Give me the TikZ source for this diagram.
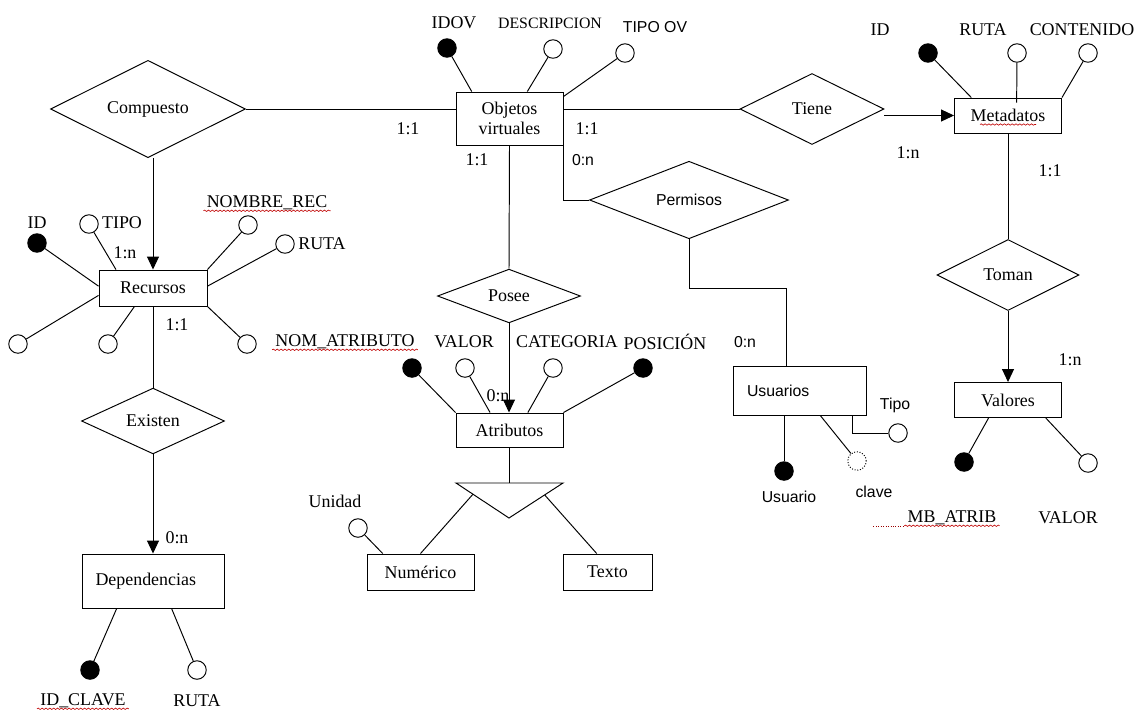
\documentclass[tikz,border=0pt]{standalone}
\usepackage{fontspec}
\setmainfont{Liberation Serif}
\newfontfamily\arialfont{Liberation Sans}
\usetikzlibrary{shapes.geometric}
\usetikzlibrary{arrows.meta}
\usetikzlibrary{calc,decorations.pathmorphing}

\begin{document}
\begin{tikzpicture}[x=0.02cm, y=-0.02cm, line width=0.55pt,
         every node/.style = {font=\fontsize{10.2}{12}\selectfont},
         sf/.style = {font=\arialfont\fontsize{9}{11}\selectfont},
         entidad/.style = {draw, rectangle, inner sep=0pt,
         minimum width=2.14cm, minimum height=0.70cm},
         relacion/.style = {draw, diamond, inner sep=0pt},
         atrib/.style = {draw, circle, inner sep=0pt, minimum size=0.37cm},
         principal/.style = {atrib, fill=black},
         card arrow/.style = {-{Triangle[length=0.26cm,width=0.24cm]}},
         spell/.style = {red!75!black, line width=0.35pt, decorate,
         decoration={snake, amplitude=0.4pt, segment length=2.2pt}}]

      \useasboundingbox (0,0) rectangle (1139,711);

      % entidades
      \node[entidad, minimum height=1.06cm, align=center,
         font=\fontsize{10.2}{11}\selectfont] (ov) at (509.5,118.5) {Objetos\\virtuales};
      \node[entidad]                                   (meta) at (1008,115.5) {Metadatos};
      \node[entidad, minimum width=2.16cm, minimum height=0.72cm] (rec) at (153,288) {Recursos};
      \node[entidad, minimum width=2.84cm, minimum height=1.08cm,
         text width=2.3cm, align=left]                 (dep) at (153,581) {Dependencias};
      \node[entidad, sf, minimum width=2.66cm, minimum height=0.98cm,
         text width=2.1cm, align=left]                 (usr) at (799.5,390.5) {Usuarios};
      \node[entidad, minimum height=0.68cm]            (atr) at (509.5,430) {Atributos};
      \node[entidad]                                   (val) at (1008,400) {Valores};
      \node[entidad, minimum height=0.72cm]            (num) at (420.5,572) {Numérico};
      \node[entidad, minimum width=1.78cm, minimum height=0.72cm] (txt) at (607.5,572) {Texto};

      % relaciones
      \node[relacion, minimum width=3.9cm,  minimum height=1.44cm]     (comp)  at (148,109) {Compuesto};
      \node[relacion, minimum width=2.88cm, minimum height=1.42cm]     (tiene) at (812,109) {Tiene};
      \node[relacion, sf, minimum width=3.98cm, minimum height=1.42cm] (perm)  at (689,200) {Permisos};
      \node[relacion, minimum width=2.86cm, minimum height=1.04cm]     (posee) at (509,296) {Posee};
      \node[relacion, minimum width=2.86cm, minimum height=1.06cm]     (exist) at (153,421) {Existen};
      \node[relacion, minimum width=2.84cm, minimum height=1.42cm]     (toman) at (1008,275) {Toman};

      % jerarquia de atributos
      \coordinate (isa-l) at (456,483);
      \coordinate (isa-r) at (563,483);
      \coordinate (isa-b) at (509,518);
      \draw (isa-l) -- (isa-r) -- (isa-b) -- cycle;

      % atributos de objetos virtuales
      \node[principal] (ov1) at (447,48) {};
      \node (ov1l) at (454,23) {IDOV};
      \node[atrib] (ov2) at (553,49) {};
      \node[font=\fontsize{9}{11}\selectfont] (ov2l) at (550,23) {DESCRIPCION};
      \node[atrib] (ov3) at (625,53) {};
      \node[sf] (ov3l) at (655,27) {TIPO OV};

      % atributos de metadatos
      \node[principal] (m1) at (928,53) {};
      \node (m1l) at (880,30) {ID};
      \node[atrib] (m2) at (1017,53) {};
      \node (m2l) at (983,30) {RUTA};
      \node[atrib] (m3) at (1088,53) {};
      \node (m3l) at (1082,30) {CONTENIDO};

      % atributos de recursos
      \node[principal] (r1) at (37,243) {};
      \node (r1l) at (37,223) {ID};
      \node[atrib] (r2) at (89,224) {};
      \node (r2l) at (122,223) {TIPO};
      \node[atrib] (r3) at (248,225) {};
      \node (r3l) at (267,203) {NOMBRE\_REC};
      \node[atrib] (r4) at (285,244) {};
      \node (r4l) at (322,244) {RUTA};
      \node[atrib] (r5) at (18,344) {};
      \node[atrib] (r6) at (108,344) {};
      \node[atrib] (r7) at (247,344) {};

      % atributos de dependencias
      \node[principal] (d1) at (90,670) {};
      \node (d1l) at (83,701) {ID\_CLAVE};
      \node[atrib] (d2) at (197,670) {};
      \node (d2l) at (197,701) {RUTA};

      % atributos de atributos
      \node[principal] (at1) at (412,368) {};
      \node (at1l) at (345,342) {NOM\_ATRIBUTO};
      \node[atrib] (at2) at (465,368) {};
      \node (at2l) at (464,342) {VALOR};
      \node[atrib] (at3) at (553,368) {};
      \node (at3l) at (567,342) {CATEGORIA};
      \node[principal] (at4) at (643,368) {};
      \node (at4l) at (665,342) {POSICIÓN};
      \node[atrib] (n1) at (358,528) {};
      \node (n1l) at (335,501) {Unidad};

      % atributos de usuarios
      \node[principal] (u1) at (784,471) {};
      \node[sf] (u1l) at (789,497) {Usuario};
      \node[atrib, densely dotted] (u2) at (857,461) {};
      \node[sf] (u2l) at (874,492) {clave};
      \node[atrib] (u3) at (898,433) {};
      \node[sf] (u3l) at (895,405) {Tipo};

      % atributos de valores
      \node[principal] (v1) at (964,462) {};
      \node (v1l) at (952,518) {MB\_ATRIB};
      \node[atrib] (v2) at (1088,463) {};
      \node (v2l) at (1068,518) {VALOR};

      % cardinalidades
      \node (c1) at (408,129) {1:1};
      \node (c2) at (587,129) {1:1};
      \node (c3) at (477,160) {1:1};
      \node[sf] (c4) at (583,160) {0:n};
      \node (c5) at (908,153) {1:n};
      \node (c6) at (1050,171) {1:1};
      \node (c7) at (1070,360) {1:n};
      \node[sf] (c8) at (745,342) {0:n};
      \node (c9) at (125,253) {1:n};
      \node (c10) at (177,325) {1:1};
      \node (c11) at (177,538) {0:n};
      \node (c12) at (498,396) {0:n};

      % relaciones entre entidades
      \draw (comp.east) -- (comp.east -| ov.west);
      \draw (ov.east |- tiene.west) -- (tiene.west);
      \draw[card arrow] (meta.west -| tiene.east) -- (meta.west);
      \draw[card arrow] (rec.north |- comp.south) -- (rec.north);
      \draw (ov.south) -- (posee.north);
      \draw[card arrow] (posee.south) -- (posee.south |- atr.north);
      \draw (ov.south east) |- (perm.west);
      \draw (perm.south) -- ++(0,49) -| ($(usr.north west)!0.405!(usr.north east)$);
      \draw (meta.south) -- (toman.north);
      \draw[card arrow] (toman.south) -- (val.north);
      \draw (rec.south) -- (exist.north);
      \draw[card arrow] (exist.south) -- (dep.north);
      \draw (atr.south) -- (atr.south |- isa-l);
      \draw ($(isa-l)!0.32!(isa-b)$) -- (num.north);
      \draw ($(isa-r)!0.34!(isa-b)$) -- ($(txt.north west)!0.38!(txt.north east)$);

      % lineas de atributos
      \draw (ov1) -- ($(ov.north west)!0.15!(ov.north east)$);
      \draw (ov2) -- ($(ov.north west)!0.665!(ov.north east)$);
      \draw (ov3) -- ($(ov.north east)+(0,5)$);
      \draw (m1) -- ($(meta.north west)!0.16!(meta.north east)$);
      \draw (m2) -- ($(meta.north west)!0.58!(meta.north east)+(0,5)$);
      \draw (m3) -- (meta.north east);
      \draw (r1) -- ($(rec.north west)!0.45!(rec.south west)$);
      \draw (r2) -- ($(rec.north west)!0.16!(rec.north east)$);
      \draw (r3) -- (rec.north east);
      \draw (r4) -- ($(rec.north east)!0.45!(rec.south east)$);
      \draw (r5) -- ($(rec.north west)!0.7!(rec.south west)$);
      \draw (r6) -- ($(rec.south west)!0.33!(rec.south east)$);
      \draw (r7) -- (rec.south east);
      \draw (d1) -- ($(dep.south west)!0.246!(dep.south east)$);
      \draw (d2) -- ($(dep.south west)!0.63!(dep.south east)$);
      \draw (at1) -- (atr.north west);
      \draw (at2) -- ($(atr.north west)!0.32!(atr.north east)$);
      \draw (at3) -- ($(atr.north west)!0.67!(atr.north east)$);
      \draw (at4) -- (atr.north east);
      \draw (n1) -- ($(num.north west)!0.15!(num.north east)$);
      \draw (u1) -- (u1 |- usr.south);
      \draw (u2) -- ($(usr.south west)!0.655!(usr.south east)$);
      \draw ($(usr.south west)!0.895!(usr.south east)$) |- (u3);
      \draw (v1) -- ($(val.south west)!0.32!(val.south east)$);
      \draw (v2) -- ($(val.south west)!0.85!(val.south east)$);

      % subrayado del corrector
      \draw[spell] ($(r3l.base west)+(3,3)$) -- ($(r3l.base east)+(-3,3)$);
      \draw[spell] ($(at1l.base west)+(3,3)$) -- ($(at1l.base east)+(-3,3)$);
      \draw[spell] ($(d1l.base west)+(3,3)$) -- ($(d1l.base east)+(-3,3)$);
      \draw[spell] ($(v1l.base west)+(3,3)$) -- ($(v1l.base east)+(-3,3)$);
      \draw[spell] ($(meta.center)+(-28,9)$) -- ($(meta.center)+(28,9)$);
      \draw[red!60!black, line width=0.4pt, densely dotted]
         ($(v1l.base west)+(-28,4)$) -- ($(v1l.base west)+(3,4)$);

   \end{tikzpicture}
\end{document}
